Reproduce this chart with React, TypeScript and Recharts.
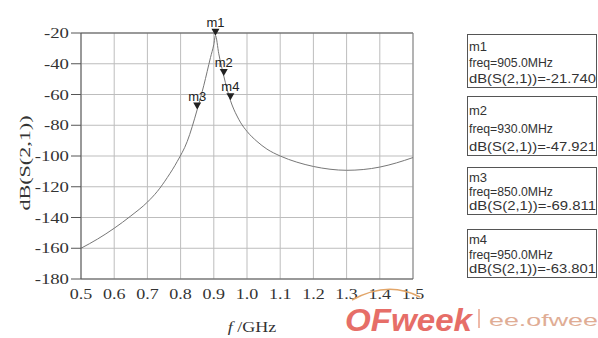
import React from "react";
import {
  ComposedChart,
  Line,
  Scatter,
  XAxis,
  YAxis,
  CartesianGrid,
  ReferenceLine,
} from "recharts";

// ---- data ----
const freqGHz = [
  0.5, 0.55, 0.6, 0.65, 0.7, 0.73, 0.76, 0.79, 0.82, 0.85, 0.87, 0.89, 0.9,
  0.905, 0.915, 0.93, 0.94, 0.95, 0.96, 0.97, 0.98, 1.0, 1.03, 1.06, 1.1,
  1.15, 1.2, 1.25, 1.3, 1.35, 1.4, 1.45, 1.5,
];
const s21dB = [
  -160, -154, -147, -139, -130, -123, -114, -103.5, -90.5, -69.8, -54, -36,
  -27.5, -21.74, -33.5, -47.9, -56.5, -63.8, -69.5, -74, -78, -84, -90.5,
  -95.5, -100, -104, -106.8, -108.6, -109.3, -108.8, -107.2, -104.5, -101,
];
const markerNames = ["m1", "m2", "m3", "m4"];
const markerFreqGHz = [0.905, 0.93, 0.85, 0.95];
const markerDB = [-21.74, -47.921, -69.811, -63.801];

const xTicks = [0.5, 0.6, 0.7, 0.8, 0.9, 1.0, 1.1, 1.2, 1.3, 1.4, 1.5];
const xMinorTicks = [0.55, 0.65, 0.75, 0.85, 0.95, 1.05, 1.15, 1.25, 1.35, 1.45];
const yTicks = [-20, -40, -60, -80, -100, -120, -140, -160, -180];
const yMinorTicks = [-30, -50, -70, -90, -110, -130, -150, -170];

const curveData = freqGHz.map((f, i) => ({ f, v: s21dB[i] }));
const markerData = markerNames.map((name, i) => ({
  name,
  f: markerFreqGHz[i],
  v: markerDB[i],
}));

const SERIF = "'Liberation Serif', 'DejaVu Serif', serif";
const SANS = "'Liberation Sans', Arial, sans-serif";

const XTick = (props: any) => {
  const { x, y, payload } = props;
  return (
    <text
      transform={`translate(${x},${y + 12}) scale(1.2,1)`}
      textAnchor="middle"
      fontFamily={SERIF}
      fontSize={15}
      fill="#333"
    >
      {Number(payload.value).toFixed(1)}
    </text>
  );
};

const YTick = (props: any) => {
  const { x, y, payload } = props;
  return (
    <text
      transform={`translate(${x},${y + 5}) scale(1.25,1)`}
      textAnchor="end"
      fontFamily={SERIF}
      fontSize={15}
      fill="#333"
    >
      {String(payload.value)}
    </text>
  );
};

const MarkerShape = (props: any) => {
  const { cx, cy, payload } = props;
  if (cx == null || cy == null) return null;
  return (
    <g>
      <path
        d={`M${cx - 4},${cy - 7} L${cx + 4},${cy - 7} L${cx},${cy} Z`}
        fill="#222"
      />
      <text
        x={cx}
        y={cy - 9}
        textAnchor="middle"
        fontFamily={SANS}
        fontSize={13}
        fill="#222"
      >
        {payload.name}
      </text>
    </g>
  );
};

const boxTops = [34, 96, 167, 229];
const boxHeights = [53, 59, 47, 48];

export default function App() {
  return (
    <div
      style={{
        position: "absolute",
        left: 0,
        top: 0,
        width: 598,
        height: 338,
        background: "#fff",
        overflow: "hidden",
      }}
    >
      <ComposedChart
        width={598}
        height={338}
        data={curveData}
        margin={{ top: 33, right: 185, bottom: 0, left: 0 }}
      >
        <CartesianGrid stroke="#bdbdbd" />
        <XAxis
          dataKey="f"
          type="number"
          domain={[0.5, 1.5]}
          ticks={xTicks}
          interval={0}
          height={59}
          tickSize={6}
          tickMargin={2}
          tickLine={false}
          axisLine={{ stroke: "#555" }}
          tick={<XTick />}
        />
        <XAxis
          xAxisId="minor"
          dataKey="f"
          type="number"
          domain={[0.5, 1.5]}
          ticks={xMinorTicks}
          interval={0}
          mirror
          height={0}
          tickSize={3}
          tick={false}
          axisLine={false}
          tickLine={{ stroke: "#555" }}
        />
        <YAxis
          type="number"
          domain={[-180, -20]}
          ticks={yTicks}
          interval={0}
          width={81}
          tickSize={10}
          tickMargin={2}
          tickLine={{ stroke: "#555" }}
          axisLine={{ stroke: "#555" }}
          tick={<YTick />}
        />
        <YAxis
          yAxisId="minor"
          type="number"
          domain={[-180, -20]}
          ticks={yMinorTicks}
          interval={0}
          mirror
          width={0}
          tickSize={3}
          tick={false}
          axisLine={false}
          tickLine={{ stroke: "#555" }}
        />
        <ReferenceLine y={-20} stroke="#555" />
        <ReferenceLine x={1.5} stroke="#888" />
        <Line
          dataKey="v"
          type="monotone"
          stroke="#777"
          strokeWidth={1}
          dot={false}
          isAnimationActive={false}
        />
        <Scatter
          data={markerData}
          dataKey="v"
          shape={<MarkerShape />}
          isAnimationActive={false}
        />
      </ComposedChart>

      <svg
        width={598}
        height={338}
        style={{ position: "absolute", left: 0, top: 0, pointerEvents: "none" }}
      >
        <text
          transform="translate(30,163) rotate(-90)"
          textAnchor="middle"
          fontFamily={SERIF}
          fontSize={15}
          fill="#333"
          textLength={95}
          lengthAdjust="spacingAndGlyphs"
        >
          dB(S(2,1))
        </text>
        <text
          transform="translate(252,332) scale(1.2,1)"
          textAnchor="middle"
          fontFamily={SERIF}
          fontSize={15}
          fill="#333"
        >
          <tspan fontStyle="italic">f</tspan> /GHz
        </text>

        {markerData.map((m, i) => {
          const top = boxTops[i];
          const h = boxHeights[i];
          const step = (h - 8) / 3;
          return (
            <g key={m.name}>
              <rect
                x={467.5}
                y={top + 0.5}
                width={129}
                height={h}
                fill="#fff"
                stroke="#555"
              />
              <text
                x={469}
                y={top + 4 + step * 1 - 2}
                fontFamily={SANS}
                fontSize={13}
                fill="#333"
              >
                {m.name}
              </text>
              <text
                x={469}
                y={top + 4 + step * 2 - 1}
                fontFamily={SANS}
                fontSize={13}
                fill="#333"
                textLength={84}
                lengthAdjust="spacingAndGlyphs"
              >
                {`freq=${(m.f * 1000).toFixed(1)}MHz`}
              </text>
              <text
                x={469}
                y={top + 4 + step * 3}
                fontFamily={SANS}
                fontSize={13}
                fill="#333"
                textLength={127}
                lengthAdjust="spacingAndGlyphs"
              >
                {`dB(S(2,1))=${m.v.toFixed(3)}`}
              </text>
            </g>
          );
        })}

        <path
          d="M352,300 Q388,280 420,297"
          fill="none"
          stroke="#e2a66a"
          strokeWidth={1.5}
        />
        <text
          x={345}
          y={331}
          fontFamily={SANS}
          fontWeight="bold"
          fontStyle="italic"
          fontSize={31}
          fill="#e66e68"
          textLength={127}
          lengthAdjust="spacingAndGlyphs"
        >
          OFweek
        </text>
        <rect x={478} y={309} width={2} height={19} fill="#efb9a8" />
        <text
          x={489}
          y={326}
          fontFamily={SANS}
          fontSize={17}
          fill="#e0ad95"
          textLength={109}
          lengthAdjust="spacingAndGlyphs"
        >
          ee.ofwee
        </text>
      </svg>
    </div>
  );
}
